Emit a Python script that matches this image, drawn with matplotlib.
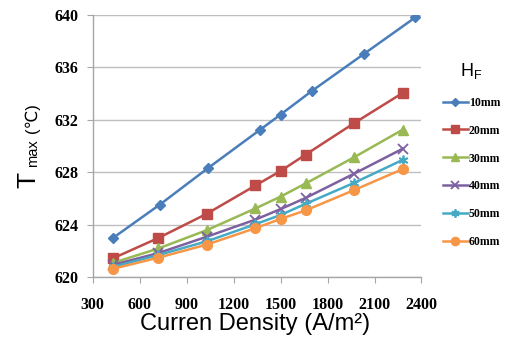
import matplotlib
matplotlib.use('Agg')
import matplotlib.pyplot as plt

# current density (A/m2); the 10mm curve was sampled at slightly different points
x_10 = [430, 730, 1040, 1370, 1500, 1700, 2030, 2360]
x_other = [430, 720, 1030, 1340, 1500, 1660, 1970, 2280]

t_10mm = [623.0, 625.55, 628.35, 631.25, 632.4, 634.2, 637.0, 639.8]
t_20mm = [621.45, 623.0, 624.85, 627.0, 628.1, 629.35, 631.75, 634.05]
t_30mm = [621.1, 622.2, 623.6, 625.25, 626.15, 627.15, 629.15, 631.25]
t_40mm = [620.95, 621.85, 623.1, 624.4, 625.2, 626.05, 627.9, 629.8]
t_50mm = [620.8, 621.7, 622.75, 624.05, 624.75, 625.6, 627.2, 628.95]
t_60mm = [620.65, 621.5, 622.5, 623.75, 624.45, 625.1, 626.65, 628.25]

labels = ['10mm', '20mm', '30mm', '40mm', '50mm', '60mm']
x_ticks = list(range(300, 2401, 300))
y_ticks = list(range(620, 641, 4))

series = [
    (x_10, t_10mm, '#4A7EBB', 'D', 5),
    (x_other, t_20mm, '#BE4B48', 's', 6.5),
    (x_other, t_30mm, '#98B954', '^', 7),
    (x_other, t_40mm, '#7D60A0', 'x', 6.5),
    (x_other, t_50mm, '#46AAC5', (6, 2, 0), 7),
    (x_other, t_60mm, '#F79646', 'o', 7),
]

fig = plt.figure(figsize=(5.06, 3.37), dpi=100)
ax = fig.add_axes([0.183, 0.177, 0.650, 0.779])

for (xs, ys, c, m, ms), lab in zip(series, labels):
    mew = 1.3 if m in ('x', (6, 2, 0)) else 1
    ax.plot(xs, ys, color=c, lw=1.8, marker=m, ms=ms, mew=mew,
            mec=c, mfc=c, label=lab, zorder=3)

ax.set_xlim(300, 2400)
ax.set_ylim(620, 640)
ax.set_xticks(x_ticks)
ax.set_yticks(y_ticks)
ax.yaxis.grid(True, color='#BFBFBF', lw=1)
ax.set_axisbelow(True)
for s in ['top', 'right']:
    ax.spines[s].set_visible(False)
for s in ['left', 'bottom']:
    ax.spines[s].set_color('#A6A6A6')
    ax.spines[s].set_linewidth(1)
ax.tick_params(axis='both', direction='out', length=4, color='#A6A6A6',
               labelsize=11.5)
ax.tick_params(axis='x', pad=10)
ax.tick_params(axis='y', pad=6)
for t in ax.get_xticklabels() + ax.get_yticklabels():
    t.set_fontfamily('Liberation Serif')
    t.set_fontweight('bold')

# axis labels
fig.text(255 / 506, 1 - 330 / 337, 'Curren Density (A/m\u00b2)', ha='center',
         va='baseline', fontsize=17, family='Liberation Sans')
fig.text(40 / 506, 1 - 188 / 337, 'T', rotation=90, ha='right', va='bottom',
         fontsize=19, family='Liberation Sans')
fig.text(40 / 506, 1 - 167 / 337, 'max', rotation=90, ha='right', va='bottom',
         fontsize=10.5, family='Liberation Sans')
fig.text(40 / 506, 1 - 133 / 337, '(℃)', rotation=90, ha='right', va='bottom',
         fontsize=12, family=['Liberation Sans', 'DejaVu Sans'])

leg = ax.legend(loc='upper left', bbox_to_anchor=(438 / 506, 1 - 56 / 337),
                bbox_transform=fig.transFigure, frameon=False,
                prop={'family': 'Liberation Serif', 'weight': 'bold', 'size': 8.5},
                handlelength=2.1, handletextpad=0.1, labelspacing=1.35,
                borderaxespad=0, title='H$_\\mathregular{F}$',
                title_fontproperties={'family': 'Liberation Sans', 'size': 13})
for h in leg.legend_handles:
    h.set_markersize(h.get_markersize() * 0.85)

fig.savefig('out.png', dpi=100)
